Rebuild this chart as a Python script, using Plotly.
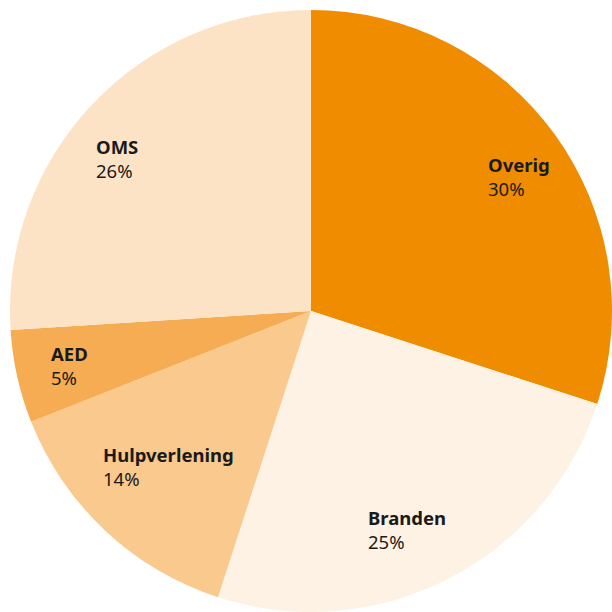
import plotly.graph_objects as go

categories = ["Overig", "Branden", "Hulpverlening", "AED", "OMS"]
values = [30, 25, 14, 5, 26]
colors = ["#F08C00", "#FEF2E5", "#F9C98D", "#F5AC52", "#FDE3C6"]

# label anchor positions (paper coords, top-left of text block)
label_pos = {
    "Overig": (0.7941, 0.7549),
    "Branden": (0.5980, 0.1781),
    "Hulpverlening": (0.1650, 0.2810),
    "AED": (0.0801, 0.4461),
    "OMS": (0.1536, 0.7843),
}

W = 612

fig = go.Figure(go.Pie(
    labels=categories,
    values=values,
    marker=dict(colors=colors, line=dict(width=0)),
    sort=False,
    direction="clockwise",
    rotation=0,
    textinfo="none",
    showlegend=False,
    domain=dict(x=[10 / W, 1.0], y=[0.0, 602 / W]),
))

for cat, val in zip(categories, values):
    x, y = label_pos[cat]
    fig.add_annotation(
        x=x, y=y, xref="paper", yref="paper",
        xanchor="left", yanchor="top", align="left",
        text=f"<b>{cat}</b><br>{val}%",
        showarrow=False,
        font=dict(family="Noto Sans", size=18.5, color="#1a1a1a"),
    )

fig.update_layout(
    width=W, height=W,
    margin=dict(l=0, r=0, t=0, b=0),
    paper_bgcolor="white",
    plot_bgcolor="white",
)

fig.write_html(
    "out.html",
    config={"displayModeBar": False},
    post_script="document.body.style.margin='0';document.body.style.overflow='hidden';",
)
